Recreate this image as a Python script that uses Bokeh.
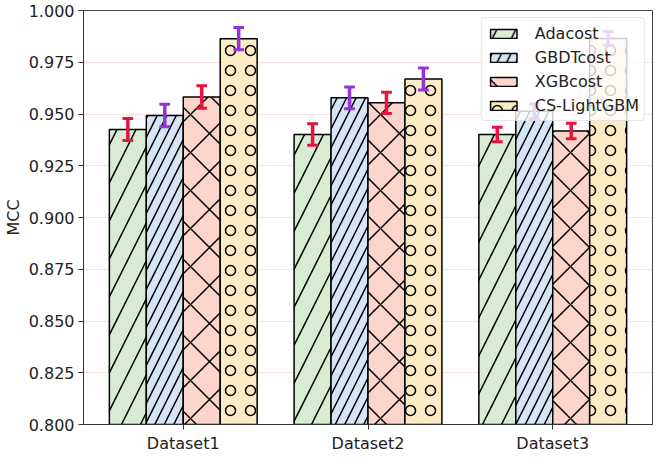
import numpy as np
from bokeh.plotting import figure
from bokeh.models import Range1d, FixedTicker, PrintfTickFormatter, Legend, LegendItem
from bokeh.embed import file_html
from bokeh.resources import INLINE

datasets = ["Dataset1", "Dataset2", "Dataset3"]
series_names = ["Adacost", "GBDTcost", "XGBcost", "CS-LightGBM"]
adacost = [0.9425, 0.9401, 0.9401]
gbdtcost = [0.9493, 0.9578, 0.9513]
xgbcost = [0.9582, 0.9554, 0.9418]
cs_lightgbm = [0.9864, 0.9669, 0.9865]
adacost_err = [0.0053, 0.0052, 0.0035]
gbdtcost_err = [0.0054, 0.0053, 0.0035]
xgbcost_err = [0.0054, 0.0051, 0.0037]
cs_lightgbm_err = [0.0054, 0.0053, 0.0033]
y_ticks = [0.800, 0.825, 0.850, 0.875, 0.900, 0.925, 0.950, 0.975, 1.000]

values = [adacost, gbdtcost, xgbcost, cs_lightgbm]
errors = [adacost_err, gbdtcost_err, xgbcost_err, cs_lightgbm_err]
fills = ["#d8ecd3", "#d5e5f3", "#fcd5ca", "#fdebc6"]
hatches = ["/", "/", "x", "o"]
hatch_scales = [38, 19, 38, 20]
err_colors = ["#e8133f", "#9233dd", "#e8133f", "#9233dd"]

FONT = "DejaVu Sans"
bar_w = 0.2

p = figure(width=655, height=455, output_backend="svg", toolbar_location=None,
           x_range=Range1d(-0.54, 2.54), y_range=Range1d(0.8, 1.0),
           min_border=0, min_border_right=3, min_border_top=10)

p.xgrid.visible = False
p.ygrid.ticker = FixedTicker(ticks=y_ticks)
p.ygrid.grid_line_color = "#f08080"
p.ygrid.grid_line_alpha = 0.7
p.ygrid.grid_line_dash = "1 2"
p.ygrid.grid_line_width = 1

idx = np.arange(len(datasets))
items = []
for k in range(4):
    x = idx + (k - 1.5) * bar_w
    vals = np.array(values[k])
    r = p.vbar(x=x, top=vals, bottom=0, width=bar_w, fill_color=fills[k],
               line_color="black", line_width=1.5,
               hatch_pattern=hatches[k], hatch_color="black",
               hatch_weight=1.5, hatch_scale=hatch_scales[k])
    items.append(LegendItem(label=series_names[k], renderers=[r]))
for k in range(4):
    x = idx + (k - 1.5) * bar_w
    vals = np.array(values[k])
    errs = np.array(errors[k])
    c = err_colors[k]
    p.segment(x0=x, y0=vals - errs, x1=x, y1=vals + errs, line_color=c, line_width=3.5)
    p.segment(x0=x - 0.029, y0=vals + errs, x1=x + 0.029, y1=vals + errs, line_color=c, line_width=3)
    p.segment(x0=x - 0.029, y0=vals - errs, x1=x + 0.029, y1=vals - errs, line_color=c, line_width=3)

legend = Legend(items=items, location="top_right")
legend.label_text_font = FONT
legend.label_text_font_size = "16px"
legend.label_text_color = "#222222"
legend.glyph_width = 33
legend.glyph_height = 11
legend.label_standoff = 15
legend.label_height = 20
legend.padding = 5
legend.spacing = 4
legend.margin = 7
legend.border_line_color = "#cccccc"
legend.border_line_width = 1
legend.background_fill_alpha = 0.8
if "border_radius" in legend.properties():
    legend.border_radius = 4
p.add_layout(legend)

p.outline_line_color = "#444444"
p.outline_line_width = 1

p.yaxis.ticker = FixedTicker(ticks=y_ticks)
p.yaxis.formatter = PrintfTickFormatter(format="%.3f")
p.yaxis.axis_label = "MCC"
p.xaxis.ticker = FixedTicker(ticks=list(idx))
p.xaxis.major_label_overrides = {int(i): d for i, d in zip(idx, datasets)}

for ax in (p.xaxis, p.yaxis):
    ax.major_label_text_font = FONT
    ax.major_label_text_font_size = "16px"
    ax.major_label_text_color = "#222222"
    ax.axis_label_text_font = FONT
    ax.axis_label_text_font_size = "16px"
    ax.axis_label_text_font_style = "normal"
    ax.axis_label_text_color = "#222222"
    ax.axis_line_color = "#333333"
    ax.major_tick_line_color = "#333333"
    ax.major_tick_out = 5
    ax.major_tick_in = 0
    ax.minor_tick_line_color = None
    ax.major_label_standoff = 4
p.yaxis.axis_label_standoff = 3

open("out.html", "w").write(file_html(p, INLINE))
